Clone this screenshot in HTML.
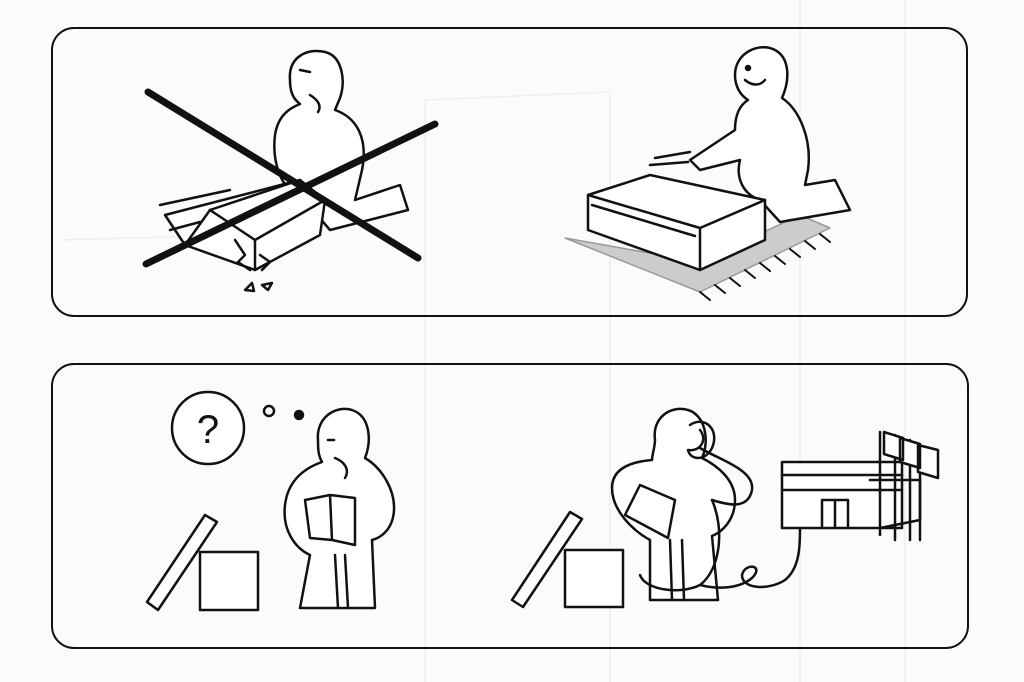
<!DOCTYPE html>
<html><head><meta charset="utf-8"><style>
html,body{margin:0;padding:0;background:#fbfbfb;}
svg{display:block;}
</style></head><body>
<svg width="1024" height="682" viewBox="0 0 1024 682" xmlns="http://www.w3.org/2000/svg" fill="none" stroke="#111" stroke-width="2.5" stroke-linejoin="round" stroke-linecap="round">
<rect x="0" y="0" width="1024" height="682" fill="#fbfbfb" stroke="none"/>
<g stroke="#eeeeee" stroke-width="1.5">
<line x1="425" y1="100" x2="425" y2="682"/><line x1="425" y1="100" x2="610" y2="92"/><line x1="610" y1="92" x2="610" y2="682"/>
<line x1="800" y1="0" x2="800" y2="682"/><line x1="905" y1="0" x2="905" y2="682"/><line x1="60" y1="240" x2="240" y2="235"/>
</g>
<rect x="52" y="28" width="915" height="288" rx="22" stroke-width="2"/>
<rect x="52" y="364" width="916" height="284" rx="22" stroke-width="2"/>

<g>
<path d="M290 80 C288 55 310 48 325 52 C342 56 346 80 340 98 L335 110 C358 118 368 140 362 170 L355 200 L400 185 L408 210 L330 230 L300 195 C280 190 272 160 275 135 C278 115 290 108 300 104 C292 98 290 90 290 80 Z" fill="#fff"/>
<path d="M300 70 L310 72"/><path d="M310 95 C318 100 322 106 318 112"/>
<path d="M165 215 L300 180 L325 200 L320 235 L255 270 L185 245 Z" fill="#fff"/>
<path d="M185 245 L210 210 L300 180"/><path d="M210 210 L255 240 L325 200"/><path d="M255 240 L255 270"/>
<path d="M235 240 L245 255 L238 262 L250 270"/><path d="M260 255 L270 262 L262 270"/>
<path d="M160 205 L230 190"/><path d="M170 230 L200 222"/>
<path d="M245 290 L252 283 L254 291 Z"/><path d="M262 285 L272 283 L268 290 Z"/>
<line x1="148" y1="92" x2="418" y2="258" stroke-width="7"/>
<line x1="146" y1="264" x2="435" y2="124" stroke-width="7"/>
</g>

<g>
<path d="M565 238 L700 292 L830 228 L800 215 L700 262 Z" fill="#ccc" stroke="#999" stroke-width="1.5"/>
<g stroke-width="2"><path d="M700 292 L710 300 M715 285 L725 293 M730 278 L740 286 M745 270 L755 278 M760 263 L770 271 M775 256 L785 264 M790 249 L800 257 M805 241 L815 249 M820 234 L830 242"/></g>
<path d="M735 75 C735 52 760 42 775 50 C790 58 790 80 782 98 C800 110 812 140 808 170 L805 185 L835 180 L850 210 L780 222 L760 200 C745 195 735 180 740 160 L700 170 L690 160 L735 130 C735 115 740 105 748 100 C740 95 735 86 735 75 Z" fill="#fff"/>
<path d="M745 80 C752 86 760 86 765 80"/><circle cx="748" cy="68" r="2" fill="#111"/>
<path d="M655 158 L690 152 M650 165 L688 162"/>
<path d="M588 195 L650 175 L765 200 L765 240 L700 270 L588 230 Z" fill="#fff"/>
<path d="M588 195 L700 228 L765 200 M700 228 L700 270"/><path d="M592 205 L695 236"/>
</g>

<g>
<circle cx="208" cy="428" r="36" fill="#fff"/>
<text x="208" y="443" font-family="Liberation Sans, sans-serif" font-size="40" text-anchor="middle" fill="#111" stroke="none">?</text>
<circle cx="269" cy="411" r="5"/><circle cx="299" cy="415" r="4" fill="#111"/>
<path d="M318 440 C316 418 335 405 352 410 C370 416 372 440 365 458 C382 468 395 490 394 510 C393 530 380 538 372 540 L375 608 L300 608 L310 555 C295 548 282 530 285 505 C288 480 305 468 322 462 C318 455 318 448 318 440 Z" fill="#fff"/>
<path d="M328 440 L334 440"/><path d="M335 458 C345 462 350 470 345 478"/>
<path d="M335 555 L338 608 M345 555 L348 608"/>
<path d="M305 500 L330 495 L332 540 L310 538 Z M330 495 L355 498 L355 545 L332 540" fill="#fff"/>
<rect x="200" y="552" width="58" height="58" fill="#fff"/>
<path d="M147 602 L205 515 L217 522 L158 610 Z" fill="#fff"/>
</g>

<g>
<path d="M655 440 C652 418 670 405 688 410 C705 415 710 440 702 458 C718 466 735 480 735 500 C735 520 722 532 712 536 L718 600 L650 600 L650 540 C632 530 612 510 612 488 C612 470 628 462 652 460 C652 455 655 447 655 440 Z" fill="#fff"/>
<path d="M690 425 C705 415 720 430 712 448 C705 462 690 460 688 450 C700 452 708 440 700 430"/>
<path d="M700 448 C720 460 755 470 752 490 C748 510 728 505 712 500"/>
<path d="M670 540 L672 600 M682 540 L684 600"/>
<path d="M625 515 L640 485 L675 500 L668 538 Z" fill="#fff"/>
<rect x="565" y="550" width="58" height="57" fill="#fff"/>
<path d="M512 600 L570 512 L582 519 L523 607 Z" fill="#fff"/>
<path d="M712 500 C725 530 720 570 700 585 C680 595 645 590 640 575 M700 585 C720 590 740 588 752 578 C765 565 745 562 742 575 C742 590 770 590 785 580 C800 568 800 545 800 528"/>
<rect x="782" y="462" width="120" height="66" fill="#fff"/>
<path d="M782 475 L902 475 M782 490 L902 490 M822 500 L848 500 L848 528 M822 500 L822 528 M835 500 L835 528"/>
<path d="M880 432 L880 535 M895 435 L895 540 M910 440 L910 540 M920 470 L920 540"/>
<path d="M884 432 L903 438 L903 460 L884 454 Z M900 438 L920 444 L920 468 L900 462 Z M918 445 L938 450 L938 478 L918 472 Z" fill="#fff"/>
<path d="M870 480 L920 480 L920 520 L880 528"/>
</g>
</svg>
</body></html>
